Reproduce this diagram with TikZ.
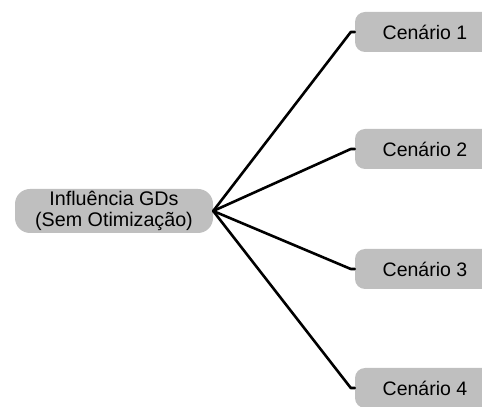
\documentclass[tikz,border=0pt]{standalone}
\usepackage{fontspec}
\setmainfont{Liberation Sans}
\usetikzlibrary{positioning}

\begin{document}
\begin{tikzpicture}[x=1pt,y=1pt]
\tikzset{
  rootbox/.style={rectangle,rounded corners=15pt,fill=gray!50,minimum width=198pt,minimum height=44pt,inner sep=1pt,align=center,font=\fontsize{19.7}{20.5}\selectfont},
  casebox/.style={rectangle,rounded corners=10pt,fill=gray!50,minimum width=140pt,minimum height=40pt,inner sep=1pt,font=\fontsize{19.5}{21}\selectfont},
  branch/.style={draw=black,line width=2.6pt,line cap=round,line join=round}
}
\useasboundingbox (0,0) rectangle (482,407);
\node[rootbox] (n_root) at (114,196) {Influência GDs\\(Sem Otimização)};
\node[casebox] (n_c1) at (425,375) {Cenário 1};
\node[casebox] (n_c2) at (425,258) {Cenário 2};
\node[casebox] (n_c3) at (425,138) {Cenário 3};
\node[casebox] (n_c4) at (425,19) {Cenário 4};
\draw[branch] (n_root.east) -- ([xshift=-4pt]n_c1.west) -- (n_c1.west);
\draw[branch] (n_root.east) -- ([xshift=-4pt]n_c2.west) -- (n_c2.west);
\draw[branch] (n_root.east) -- ([xshift=-4pt]n_c3.west) -- (n_c3.west);
\draw[branch] (n_root.east) -- ([xshift=-4pt]n_c4.west) -- (n_c4.west);
\end{tikzpicture}
\end{document}
